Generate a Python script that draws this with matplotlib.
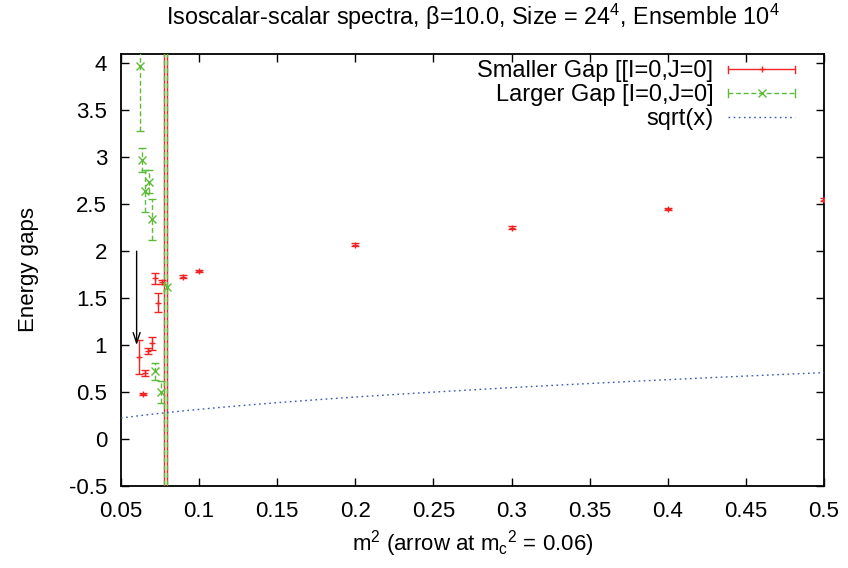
import matplotlib
matplotlib.use("Agg")
import matplotlib.pyplot as plt
import numpy as np
from matplotlib.lines import Line2D
from matplotlib.legend_handler import HandlerBase

# ---- data ----
small_x = [0.0615, 0.0639, 0.0654, 0.0675, 0.0697, 0.0718, 0.0739, 0.0765, 0.0778, 0.0797,
           0.090, 0.100, 0.2, 0.3, 0.4, 0.5]
small_y = [0.87, 0.48, 0.70, 0.94, 1.02, 1.71, 1.45, 1.67, 5.0, 5.0,
           1.73, 1.79, 2.07, 2.25, 2.45, 2.55]
small_err = [0.18, 0.012, 0.03, 0.03, 0.07, 0.06, 0.10, 0.02, 20, 20,
             0.015, 0.015, 0.015, 0.015, 0.015, 0.015]

large_x = [0.0622, 0.0632, 0.0654, 0.0681, 0.0697, 0.0718, 0.0754, 0.0778, 0.0797]
large_y = [3.97, 2.97, 2.64, 2.74, 2.34, 0.72, 0.50, 5.0, 1.62]
large_err = [0.69, 0.13, 0.22, 0.12, 0.22, 0.09, 0.115, 20, 20]

arrow_x = 0.06
arrow_from = 2.0
arrow_to = 1.0

xticks = [0.05, 0.1, 0.15, 0.2, 0.25, 0.3, 0.35, 0.4, 0.45, 0.5]
xticklabels = ["0.05", "0.1", "0.15", "0.2", "0.25", "0.3", "0.35", "0.4", "0.45", "0.5"]
yticks = [-0.5, 0, 0.5, 1, 1.5, 2, 2.5, 3, 3.5, 4]
yticklabels = ["-0.5", "0", "0.5", "1", "1.5", "2", "2.5", "3", "3.5", "4"]

RED = "#f02424"
GREEN = "#5dbb3a"
BLUE = "#3a55b5"
FS = 16

plt.rcParams["font.family"] = ["Liberation Sans", "DejaVu Sans"]
plt.rcParams["mathtext.fontset"] = "custom"
plt.rcParams["mathtext.rm"] = "Liberation Sans"
plt.rcParams["mathtext.it"] = "Liberation Sans:italic"
plt.rcParams["axes.unicode_minus"] = False

fig = plt.figure(figsize=(8.48, 5.68), dpi=100)
ax = fig.add_axes([121 / 848, 1 - 486 / 568, 703 / 848, 432 / 568])

# red errorbars
r = ax.errorbar(small_x, small_y, yerr=small_err, fmt="+", color=RED, ms=5, mew=1,
                elinewidth=1, capsize=2.6, capthick=1, zorder=3)
# green errorbars dashed
g = ax.errorbar(large_x, large_y, yerr=large_err, fmt="x", color=GREEN, ms=5.5, mew=1,
                elinewidth=1, capsize=2.6, capthick=1, zorder=4)
for lc in g[2]:
    lc.set_linestyle((0, (3.5, 2)))

# sqrt curve
xs = np.linspace(0.05, 0.5, 400)
ax.plot(xs, np.sqrt(xs), color=BLUE, lw=1, ls=(0, (1.2, 2.5)), zorder=5)

# arrow
ax.annotate("", xy=(arrow_x, arrow_to), xytext=(arrow_x, arrow_from),
            arrowprops=dict(arrowstyle="->,head_length=0.75,head_width=0.25",
                            color="black", lw=1, shrinkA=0, shrinkB=0), zorder=6)

ax.set_xlim(0.05, 0.5)
ax.set_ylim(-0.5, 4.1)
ax.set_xticks(xticks)
ax.set_xticklabels(xticklabels)
ax.set_yticks(yticks)
ax.set_yticklabels(yticklabels)
ax.tick_params(direction="in", length=6, width=1, top=True, right=True,
               labelsize=FS)
ax.tick_params(axis="x", pad=11)
ax.tick_params(axis="y", pad=10)
for s in ax.spines.values():
    s.set_linewidth(1.3)

ax.set_xlabel(r"m$^{2}$ (arrow at m$_{\rm c}$$^{2}$ = 0.06)", fontsize=FS, labelpad=4)
ax.set_ylabel("Energy gaps", fontsize=FS)
ax.yaxis.set_label_coords(-0.117, 0.5)
ax.set_title("Isoscalar-scalar spectra, \u03b2=10.0, Size = 24$^{4}$, Ensemble 10$^{4}$",
             fontsize=16.8, pad=21)


class GnuHandler(HandlerBase):
    def __init__(self, color, ls, marker=None, ms=5, caps=False):
        super().__init__()
        self.color = color
        self.ls = ls
        self.marker = marker
        self.ms = ms
        self.caps = caps

    def create_artists(self, legend, orig_handle, xdescent, ydescent, width, height,
                       fontsize, trans):
        x0 = -xdescent
        x1 = -xdescent + width
        yc = -ydescent + height / 2
        arts = [Line2D([x0, x1], [yc, yc], color=self.color, ls=self.ls, lw=1,
                       transform=trans)]
        if self.caps:
            h = 2.6
            for xx in (x0, x1):
                arts.append(Line2D([xx, xx], [yc - h, yc + h], color=self.color,
                                   lw=1, transform=trans))
        if self.marker:
            arts.append(Line2D([(x0 + x1) / 2], [yc], marker=self.marker, ms=self.ms,
                               mew=1, color=self.color, ls="none", transform=trans))
        return arts


h1 = Line2D([], [], color=RED)
h2 = Line2D([], [], color=GREEN)
h3 = Line2D([], [], color=BLUE)
leg = ax.legend([h1, h2, h3],
                ["Smaller Gap [[I=0,J=0]", "Larger Gap [I=0,J=0]", "sqrt(x)"],
                handler_map={h1: GnuHandler(RED, "-", "+", 5, True),
                             h2: GnuHandler(GREEN, (0, (3.5, 2)), "x", 5.5, True),
                             h3: GnuHandler(BLUE, (0, (1.2, 2.5)))},
                loc="upper right", bbox_to_anchor=(0.959, 0.985), frameon=False,
                markerfirst=False, fontsize=17, handlelength=2.85, handletextpad=0.62,
                borderpad=0, borderaxespad=0, labelspacing=0.08)

fig.savefig("out.png", dpi=100)
